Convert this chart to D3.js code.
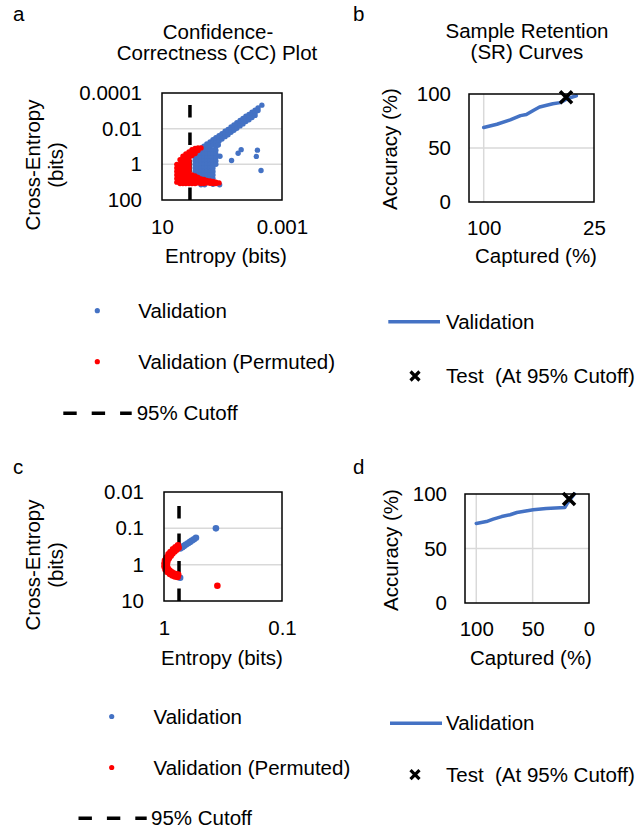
<!DOCTYPE html>
<html>
<head>
<meta charset="utf-8">
<script src="https://cdn.jsdelivr.net/npm/d3@7"></script>
<style>
  body { margin: 0; background: #fff; }
  text { font-family: "Liberation Sans", Arial, sans-serif; fill: #000; }
</style>
</head>
<body>
<svg id="chart" width="641" height="830"></svg>
<script>
// ---------- data ----------
// panel a: [entropy, cross-entropy] in bits
const validA = [
  // main band
  [0.5,0.126],[0.5,0.18],[0.5,0.25],
  [0.4,0.095],[0.4,0.13],[0.4,0.19],
  [0.32,0.072],[0.32,0.10],[0.32,0.14],
  [0.25,0.055],[0.25,0.077],[0.25,0.11],
  [0.2,0.042],[0.2,0.059],[0.2,0.084],
  [0.16,0.032],[0.16,0.045],[0.16,0.064],
  [0.126,0.025],[0.126,0.035],[0.126,0.05],
  [0.1,0.019],[0.1,0.027],[0.1,0.038],
  [0.079,0.014],[0.079,0.02],[0.079,0.028],
  [0.063,0.011],[0.063,0.015],[0.063,0.022],
  [0.05,0.0081],[0.05,0.0114],[0.05,0.016],
  [0.04,0.0062],[0.04,0.0088],[0.04,0.0124],
  [0.032,0.0047],[0.032,0.0066],[0.032,0.0094],
  [0.025,0.0035],[0.025,0.005],[0.025,0.007],
  [0.02,0.0027],[0.02,0.0038],[0.02,0.0054],
  [0.016,0.002],[0.016,0.0028],[0.016,0.004],
  [0.0126,0.0016],[0.0126,0.0022],[0.0126,0.0032],
  [0.01,0.0012],[0.01,0.0017],[0.01,0.0024],
  [0.0079,0.00091],[0.0079,0.0013],[0.0079,0.0018],
  [0.0063,0.00069],[0.0063,0.00097],
  [0.0047,0.00048],
  // lower cluster
  [0.79,0.26],[0.79,0.42],[0.79,0.65],[0.79,1.0],[0.79,1.6],[0.79,2.5],[0.79,4.0],[0.79,6.3],
  [0.63,0.16],[0.63,0.26],[0.63,0.42],[0.63,0.65],[0.63,1.0],[0.63,1.6],[0.63,2.5],[0.63,4.0],[0.63,6.3],
  [0.5,0.16],[0.5,0.26],[0.5,0.42],[0.5,0.65],[0.5,1.0],[0.5,1.6],[0.5,2.5],[0.5,4.0],[0.5,6.3],
  [0.4,0.16],[0.4,0.26],[0.4,0.42],[0.4,0.65],[0.4,1.0],[0.4,1.6],[0.4,2.5],[0.4,4.0],[0.4,6.3],
  [0.32,0.16],[0.32,0.26],[0.32,0.42],[0.32,0.65],[0.32,1.0],[0.32,1.6],[0.32,2.5],[0.32,4.0],[0.32,6.3],
  [0.25,0.16],[0.25,0.26],[0.25,0.42],[0.25,0.65],[0.25,1.0],[0.25,1.6],[0.25,2.5],[0.25,4.0],[0.25,6.3],
  [0.2,0.16],[0.2,0.26],[0.2,0.42],[0.2,0.65],[0.2,1.0],[0.2,1.6],[0.2,2.5],[0.2,4.0],[0.2,6.3],
  [0.16,0.1],[0.16,0.16],[0.16,0.26],[0.16,0.42],[0.16,0.65],[0.16,1.0],
  [0.5,14],[0.38,14],[0.2,13],[0.12,14],
  // outliers
  [0.133,0.083],[0.117,0.35],[0.048,0.61],[0.029,0.24],[0.023,0.15],
  [0.0066,0.16],[0.0072,0.36],[0.005,2.2]
];
const permutedA = [
  [3.2,1.0],[3.2,1.6],[3.2,2.5],[3.2,4.0],[3.2,6.3],[3.2,10],
  [2.5,0.55],[2.5,1.0],[2.5,1.6],[2.5,2.5],[2.5,4.0],[2.5,6.3],[2.5,10],[2.5,12],
  [2.0,0.35],[2.0,0.55],[2.0,0.8],[2.0,1.2],[2.0,1.8],[2.0,2.5],[2.0,4.0],[2.0,6.3],[2.0,10],[2.0,12],
  [1.6,0.26],[1.6,0.4],[1.6,0.6],[1.6,0.9],[1.6,1.3],[1.6,2.0],[1.6,3.0],[1.6,4.5],[1.6,6.5],[1.6,9],[1.6,12],
  [1.26,0.2],[1.26,0.3],[1.26,0.45],[1.26,0.65],[1.26,1.0],[1.26,1.6],[1.26,2.5],[1.26,4.0],[1.26,6.3],[1.26,9],[1.26,12],
  [1.0,0.15],[1.0,0.22],[1.0,0.32],[1.0,4.0],[1.0,6.3],[1.0,9],[1.0,12],
  [0.79,0.13],[0.79,0.18],[0.79,0.25],[0.79,4.5],[0.79,6.5],[0.79,9],[0.79,12],
  [0.63,0.12],[0.63,0.17],[0.63,5.5],[0.63,8],[0.63,11],
  [0.5,0.12],[0.5,6.5],[0.5,9],[0.5,12],
  [0.4,7],[0.4,9.5],[0.4,12],
  [0.32,8],[0.32,11],
  [0.25,8.5],[0.25,11.5],
  [0.2,9],[0.2,12],
  [0.16,10],[0.16,12],
  [0.126,11]
];
const cutoffA = 1.17;
const entropyTicksA = [10, 0.001];
const crossTicksA = [0.0001, 0.01, 1, 100];
const crossGridA = [0.01, 1];

// panel c
const validC = [
  [0.73,0.357],[0.70,0.33],[0.677,0.304],[0.651,0.28],[0.626,0.257],
  [0.602,0.236],[0.579,0.217],[0.557,0.2],[0.536,0.183],
  [0.73,2.3],[0.363,0.1]
];
const permutedC = [
  [0.761,0.295],[0.799,0.335],[0.839,0.38],[0.881,0.446],[0.916,0.522],
  [0.952,0.632],[0.981,0.766],[0.99,0.927],[0.99,1.12],[0.971,1.36],
  [0.934,1.59],[0.89,1.81],[0.847,1.99],[0.807,2.12],[0.768,2.19],
  [0.752,0.344],[0.784,0.387],[0.815,0.432],[0.849,0.493],[0.877,0.564],
  [0.909,0.661],[0.934,0.776],[0.943,0.914],[0.945,1.08],[0.929,1.27],
  [0.897,1.46],[0.859,1.61],[0.824,1.75],[0.79,1.84],[0.758,1.88],
  [0.353,3.8]
];
const cutoffC = 0.746;
const entropyTicksC = [1, 0.1];
const crossTicksC = [0.01, 0.1, 1, 10];
const crossGridC = [0.1, 1];

// panel b: sample retention
const capturedB = [100, 91, 82, 75, 71, 66, 62, 53, 48, 42.5, 37];
const accuracyB = [69, 72, 76, 80, 81, 85, 88, 91, 92, 96, 98.4];
const testB = [44, 97];
const capturedTicksB = [100, 25];
const capturedGridB = [100];

// panel d
const capturedD = [100, 91, 85, 77.5, 70, 64, 49.5, 38, 21.5, 19.5, 16, 13];
const accuracyD = [73, 74.7, 76.9, 79.3, 81, 83, 85.5, 86.7, 87.6, 91, 96, 100];
const testD = [17.7, 95.4];
const capturedTicksD = [100, 50, 0];
const capturedGridD = [100, 50];

const accuracyTicks = [0, 50, 100];
const accuracyGrid = [50];

// ---------- drawing ----------
const FONT = '"Liberation Sans", Arial, sans-serif';
const FS = 20.5;
const BLUE = "#4472C4", RED = "#FF0000", GRID = "#d9d9d9";
const svg = d3.select("#chart");

function styleAxis(g) {
  g.select(".domain").remove();
  g.selectAll("text").attr("font-size", FS).attr("font-family", FONT).attr("fill", "#000");
}

function addText(str, x, y, opts = {}) {
  const t = svg.append("text").attr("x", x).attr("y", y)
    .attr("font-size", FS).attr("text-anchor", opts.anchor || "start")
    .style("white-space", "pre").text(str);
  if (opts.rotate) t.attr("transform", `rotate(-90,${x},${y})`);
  return t;
}

function crossPath(h) {
  return `M${-h},${-h}L${h},${h}M${-h},${h}L${h},${-h}`;
}

function drawCC(p) {
  const x = d3.scaleLog().domain([p.xTicks[0], p.xTicks[1]]).range([p.left, p.right]);
  const y = d3.scaleLog().domain([p.yTicks[0], p.yTicks[p.yTicks.length - 1]]).range([p.top, p.bottom]);

  svg.append("g").selectAll("line").data(p.grid).join("line")
    .attr("x1", p.left).attr("x2", p.right)
    .attr("y1", d => y(d)).attr("y2", d => y(d))
    .attr("stroke", GRID).attr("stroke-width", 1.5);

  // 95% cutoff, drawn from the bottom up
  svg.append("line")
    .attr("x1", x(p.cutoff)).attr("x2", x(p.cutoff))
    .attr("y1", p.bottom).attr("y2", p.top)
    .attr("stroke", "#000").attr("stroke-width", 3.5)
    .attr("stroke-dasharray", "12.5,15");

  svg.append("g").selectAll("circle").data(p.valid).join("circle")
    .attr("cx", d => x(d[0])).attr("cy", d => y(d[1])).attr("r", p.r)
    .attr("fill", BLUE);
  svg.append("g").selectAll("circle").data(p.permuted).join("circle")
    .attr("cx", d => x(d[0])).attr("cy", d => y(d[1])).attr("r", p.r)
    .attr("fill", RED);

  svg.append("rect")
    .attr("x", p.left).attr("y", p.top)
    .attr("width", p.right - p.left).attr("height", p.bottom - p.top)
    .attr("fill", "none").attr("stroke", "#000").attr("stroke-width", 1.5);

  svg.append("g").attr("transform", `translate(${p.left},0)`)
    .call(d3.axisLeft(y).tickValues(p.yTicks).tickFormat(d => String(d)).tickSize(0).tickPadding(20))
    .call(styleAxis);
  svg.append("g").attr("transform", `translate(0,${p.bottom})`)
    .call(d3.axisBottom(x).tickValues(p.xTicks).tickFormat(d => String(d)).tickSize(0).tickPadding(19))
    .call(styleAxis);
}

function drawSR(p) {
  const x = d3.scaleLinear().domain(p.xDomain).range([p.left, p.right]);
  const y = d3.scaleLinear().domain([0, 100]).range([p.bottom, p.top]);

  svg.append("g").selectAll("line").data(accuracyGrid).join("line")
    .attr("x1", p.left).attr("x2", p.right)
    .attr("y1", d => y(d)).attr("y2", d => y(d))
    .attr("stroke", GRID).attr("stroke-width", 1.5);
  svg.append("g").selectAll("line").data(p.xGrid).join("line")
    .attr("y1", p.top).attr("y2", p.bottom)
    .attr("x1", d => x(d)).attr("x2", d => x(d))
    .attr("stroke", GRID).attr("stroke-width", 1.5);

  const pts = p.captured.map((c, i) => [c, p.accuracy[i]]);
  svg.append("path").datum(pts)
    .attr("d", d3.line().x(d => x(d[0])).y(d => y(d[1])))
    .attr("fill", "none").attr("stroke", BLUE).attr("stroke-width", 3.5)
    .attr("stroke-linejoin", "round").attr("stroke-linecap", "round");

  svg.append("path")
    .attr("d", crossPath(6))
    .attr("transform", `translate(${x(p.test[0])},${y(p.test[1])})`)
    .attr("stroke", "#000").attr("stroke-width", 3.5).attr("fill", "none");

  svg.append("rect")
    .attr("x", p.left).attr("y", p.top)
    .attr("width", p.right - p.left).attr("height", p.bottom - p.top)
    .attr("fill", "none").attr("stroke", "#000").attr("stroke-width", 1.5);

  svg.append("g").attr("transform", `translate(${p.left},0)`)
    .call(d3.axisLeft(y).tickValues(accuracyTicks).tickSize(0).tickPadding(18))
    .call(styleAxis);
  svg.append("g").attr("transform", `translate(0,${p.bottom})`)
    .call(d3.axisBottom(x).tickValues(p.xTicks).tickSize(0).tickPadding(18))
    .call(styleAxis);
}

// panel a
drawCC({left: 162, right: 282, top: 93, bottom: 200, r: 2.7,
  xTicks: entropyTicksA, yTicks: crossTicksA, grid: crossGridA,
  cutoff: cutoffA, valid: validA, permuted: permutedA});
// panel c
drawCC({left: 164, right: 282, top: 492, bottom: 601, r: 3.3,
  xTicks: entropyTicksC, yTicks: crossTicksC, grid: crossGridC,
  cutoff: cutoffC, valid: validC, permuted: permutedC});
// panel b
drawSR({left: 469, right: 594, top: 94, bottom: 202, xDomain: [110, 25],
  xTicks: capturedTicksB, xGrid: capturedGridB,
  captured: capturedB, accuracy: accuracyB, test: testB});
// panel d
drawSR({left: 465, right: 589, top: 494, bottom: 603, xDomain: [110, 0],
  xTicks: capturedTicksD, xGrid: capturedGridD,
  captured: capturedD, accuracy: accuracyD, test: testD});

// panel letters and titles
addText("a", 13, 21);
addText("b", 353, 21);
addText("c", 13, 474);
addText("d", 353, 474);
addText("Confidence-", 218, 39, {anchor: "middle"});
addText("Correctness (CC) Plot", 217, 60, {anchor: "middle"});
addText("Sample Retention", 527, 38, {anchor: "middle"});
addText("(SR) Curves", 527, 59, {anchor: "middle"});

// axis titles
addText("Cross-Entropy", 40, 165, {anchor: "middle", rotate: true});
addText("(bits)", 63, 165, {anchor: "middle", rotate: true});
addText("Entropy (bits)", 226, 263, {anchor: "middle"});
addText("Accuracy (%)", 397, 149, {anchor: "middle", rotate: true});
addText("Captured (%)", 536, 263, {anchor: "middle"});
addText("Cross-Entropy", 40, 565, {anchor: "middle", rotate: true});
addText("(bits)", 63, 565, {anchor: "middle", rotate: true});
addText("Entropy (bits)", 222, 665, {anchor: "middle"});
addText("Accuracy (%)", 398, 550, {anchor: "middle", rotate: true});
addText("Captured (%)", 531, 665, {anchor: "middle"});

// legends
function ccLegend(dotX, textX, y1, y2, dashX1, dashX2, textX3, y3) {
  svg.append("circle").attr("cx", dotX).attr("cy", y1).attr("r", 2.6).attr("fill", BLUE);
  addText("Validation", textX, y1 + 7);
  svg.append("circle").attr("cx", dotX).attr("cy", y2).attr("r", 2.6).attr("fill", RED);
  addText("Validation (Permuted)", textX, y2 + 7);
  svg.append("line").attr("x1", dashX1).attr("x2", dashX2).attr("y1", y3).attr("y2", y3)
    .attr("stroke", "#000").attr("stroke-width", 3.5).attr("stroke-dasharray", "13.4,15");
  addText("95% Cutoff", textX3, y3 + 7);
}
function srLegend(lineX1, lineX2, textX, y1, crossX, y2) {
  svg.append("line").attr("x1", lineX1).attr("x2", lineX2).attr("y1", y1).attr("y2", y1)
    .attr("stroke", BLUE).attr("stroke-width", 3.5);
  addText("Validation", textX, y1 + 7);
  svg.append("path").attr("d", crossPath(4.5))
    .attr("transform", `translate(${crossX},${y2})`)
    .attr("stroke", "#000").attr("stroke-width", 3.2).attr("fill", "none");
  addText("Test  (At 95% Cutoff)", textX, y2 + 7);
}
ccLegend(97.3, 138.3, 310.7, 361.7, 63.3, 131.7, 136.7, 413.3);
srLegend(388.3, 440, 446, 321.7, 415, 376);
ccLegend(111.7, 153.5, 716.5, 767.5, 78.5, 146.7, 151, 818.3);
srLegend(390, 442, 446, 723.3, 415, 774.6);
</script>
</body>
</html>
